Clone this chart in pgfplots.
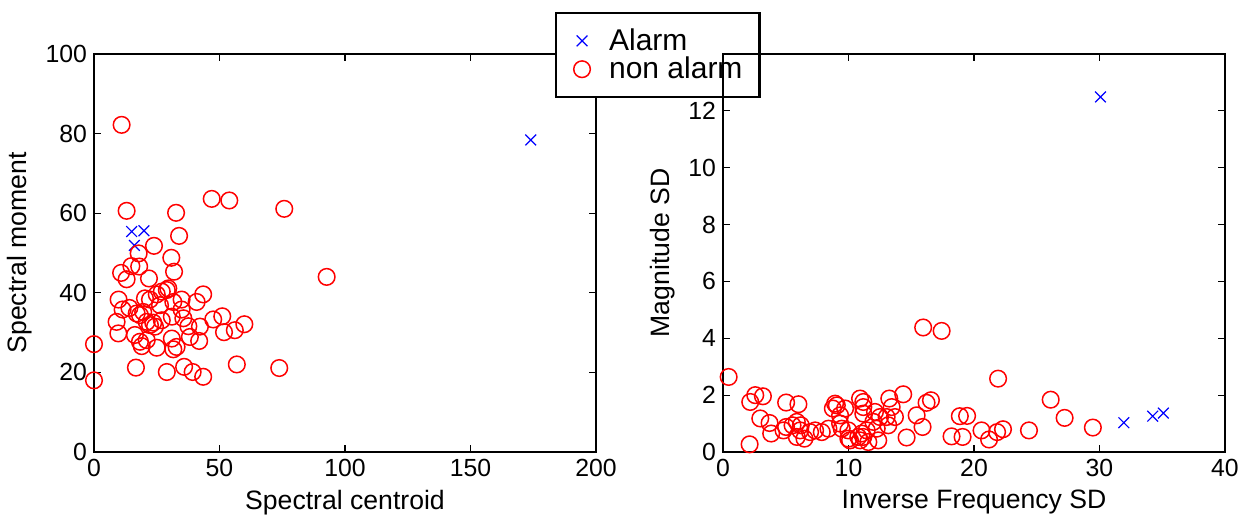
\documentclass[border=0pt]{standalone}
\usepackage{pgfplots}
\pgfplotsset{compat=1.18}
\usepackage{fontspec}
\setmainfont{Liberation Sans}
\definecolor{mred}{RGB}{255,0,0}
\definecolor{mblue}{RGB}{0,0,255}
\begin{document}
\begin{tikzpicture}
\useasboundingbox (0pt,0pt) rectangle (621.5pt,260pt);
\pgfplotsset{
  mstyle/.style={
    scale only axis, width=251pt, height=199pt,
    axis line style={line width=0.9pt},
    tick align=inside, xtick pos=both, ytick pos=both,
    major tick length=3.5pt,
    every tick/.style={black, line width=0.6pt},
    tick label style={font=\fontsize{12.4}{14}\selectfont},
    label style={font=\fontsize{13.3}{15}\selectfont},
    /pgf/number format/assume math mode=true,
    clip=false,
  },
  alarm/.style={only marks, mark=x, mblue, mark size=3.8pt, mark options={line width=0.6pt}},
  nonalarm/.style={only marks, mark=o, mred, mark size=4.15pt, mark options={line width=0.75pt}},
}
\begin{axis}[mstyle, at={(47pt,34pt)}, anchor=south west,
  xmin=0, xmax=200, ymin=0, ymax=100,
  xtick={0,50,100,150,200}, ytick={0,20,40,60,80,100},
  xlabel={Spectral centroid}, ylabel={Spectral moment},
  legend style={at={(0.918,1.1055)}, anchor=north west, draw=black, line width=1.1pt,
    inner xsep=7.5pt, inner ysep=6.8pt, column sep=7pt,
    nodes={inner xsep=1pt, inner ysep=0.9pt},
    font=\fontsize{15}{15}\selectfont, row sep=0pt},
  legend cell align=left,
  legend image code/.code={\path (-5pt,0pt) (5pt,0pt); \draw[#1] plot coordinates {(0pt,0pt)};},
]
\addplot[alarm] coordinates {(15.0,55.4) (19.9,55.6) (16.1,51.9) (174,78.4)};
\addlegendentry{Alarm}
\addplot[nonalarm] coordinates {
(11.0,82.2) (13.0,60.6) (32.7,60.1) (46.9,63.6) (53.9,63.2) (75.8,61.1)
(33.9,54.3) (23.9,51.8) (17.8,49.9) (14.9,46.7) (18.0,46.6) (10.8,45.0)
(13.0,43.4) (30.8,48.8) (31.9,45.3) (21.9,43.6) (92.7,44.0) (9.8,38.3)
(11.4,35.8) (14.1,36.2) (17.0,34.8) (18.3,34.4) (19.6,35.2) (20.3,38.6)
(22.3,38.3) (25.0,39.6) (27.0,40.3) (29.0,40.7) (29.6,41.1) (26.3,36.9)
(31.6,37.7) (34.9,38.3) (34.9,35.8) (35.6,33.6) (31.0,34.0) (27.0,33.1)
(23.6,32.5) (24.3,31.5) (21.0,32.7) (22.3,31.9) (9.0,32.7) (9.7,29.8)
(16.3,29.4) (18.3,27.7) (19.0,26.6) (21.0,28.1) (25.0,26.2) (31.0,28.5)
(31.6,25.8) (32.9,26.4) (37.6,31.6) (38.2,28.9) (41.9,27.9) (42.2,31.5)
(40.9,37.7) (43.5,39.6) (47.5,33.3) (51.1,34.1) (51.8,30.1) (56.1,30.6)
(59.9,32.1) (56.9,22.0) (73.8,21.1) (0,27.1) (0,18.0) (16.7,21.2)
(29.0,20.1) (35.9,21.4) (39.3,20.1) (43.5,18.9)
};
\addlegendentry{non alarm}
\end{axis}
\begin{axis}[mstyle, at={(361.5pt,34pt)}, anchor=south west,
  xmin=0, xmax=40, ymin=0, ymax=14,
  xtick={0,10,20,30,40}, ytick={0,2,4,6,8,10,12},
  xlabel={Inverse Frequency SD}, ylabel={Magnitude SD},
]
\addplot[alarm] coordinates {(30.08,12.49) (31.94,1.03) (34.24,1.26) (35.09,1.37)};
\addplot[nonalarm] coordinates {
(0.45,2.64) (2.17,1.76) (2.57,2.0) (3.18,1.96) (2.12,0.27) (2.97,1.18)
(3.71,1.02) (3.84,0.65) (5.03,1.74) (6.01,1.68) (4.82,0.76) (5.03,0.88)
(5.54,0.94) (5.88,1.06) (6.2,0.94) (5.88,0.53) (6.15,0.76) (6.49,0.47)
(6.94,0.70) (7.34,0.76) (7.87,0.70) (8.4,0.82) (8.93,1.70) (8.75,1.53)
(9.07,1.64) (9.33,1.29) (9.73,1.53) (9.33,1.0) (9.46,0.82) (9.99,0.76)
(9.99,0.47) (10.12,0.41) (10.78,0.53) (10.92,1.88) (11.18,1.76) (11.18,1.58)
(11.18,1.35) (11.05,0.65) (10.92,0.41) (11.18,0.53) (11.45,0.76) (11.58,0.35)
(11.98,1.06) (12.11,1.41) (12.25,0.82) (12.37,0.41) (12.51,1.23) (13.04,1.23)
(13.17,0.94) (13.25,1.88) (13.44,1.58) (13.7,1.23) (14.36,2.03) (14.63,0.51)
(15.43,1.29) (15.90,0.88) (15.95,4.38) (17.42,4.26) (16.22,1.73) (16.57,1.82)
(18.21,0.55) (18.87,1.26) (19.45,1.27) (19.09,0.53) (20.6,0.76) (21.2,0.44)
(21.84,0.70) (22.31,0.80) (21.92,2.58) (24.38,0.76) (26.11,1.84) (27.22,1.20)
(29.47,0.86)
};
\end{axis}
\end{tikzpicture}
\end{document}
